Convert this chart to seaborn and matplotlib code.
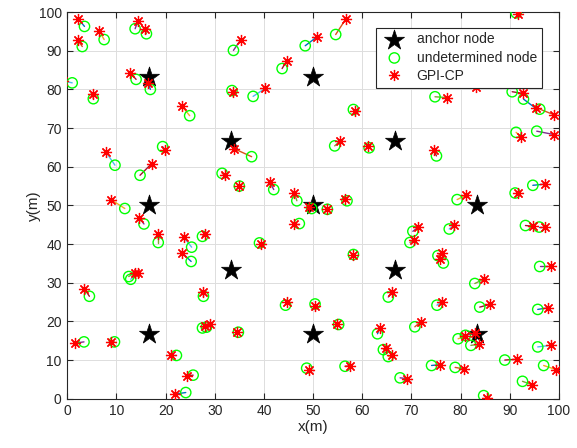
import matplotlib
matplotlib.use("Agg")
import matplotlib.pyplot as plt
import seaborn as sns
import pandas as pd

anchor_x = [16.67, 16.67, 16.67, 33.33, 33.33, 50.0, 50.0, 50.0, 66.67, 66.67, 83.33, 83.33, 83.33]
anchor_y = [16.67, 50.0, 83.33, 33.33, 66.67, 16.67, 50.0, 83.33, 33.33, 66.67, 16.67, 50.0, 83.33]

node_x = [3.5, 3.05, 7.5, 13.8, 16.1, 1.0, 14.0, 16.9, 5.3, 24.9,
          33.8, 33.5, 37.8, 43.7, 48.4, 54.6, 58.2, 91.3, 74.8, 82.5,
          90.5, 92.8, 96.1, 91.3, 95.5, 67.2, 9.7, 14.8, 19.4, 31.5,
          11.7, 15.6, 18.5, 25.3, 27.5, 25.2, 37.5, 35.0, 42.0, 46.7,
          49.7, 52.9, 56.9, 47.2, 39.1, 58.2, 54.4, 61.4, 75.1, 94.7,
          91.1, 79.3, 70.3, 69.7, 77.7, 93.2, 96.0, 75.4, 76.5, 96.1,
          12.5, 12.9, 4.5, 27.7, 27.5, 28.3, 3.4, 9.6, 22.2, 25.6,
          24.1, 44.4, 50.4, 34.8, 55.2, 48.7, 56.5, 63.1, 64.3, 65.3,
          65.3, 82.9, 75.2, 83.9, 95.7, 70.7, 79.5, 81.0, 82.1, 95.7,
          89.0, 74.1, 78.9, 96.9, 67.7, 92.6, 84.7]
node_y = [96.3, 91.1, 92.9, 95.7, 94.4, 81.7, 82.6, 80.0, 77.6, 73.2,
          90.1, 79.7, 78.2, 85.4, 91.3, 94.2, 74.8, 99.8, 78.1, 82.5,
          79.4, 77.5, 74.9, 68.9, 69.2, 81.8, 60.4, 57.8, 65.2, 58.3,
          49.2, 45.2, 40.4, 39.2, 42.0, 35.5, 62.6, 55.0, 54.1, 51.2,
          49.2, 49.0, 51.2, 45.3, 40.3, 37.3, 65.4, 64.9, 62.8, 55.2,
          53.2, 51.5, 43.3, 40.4, 43.9, 44.8, 44.4, 37.0, 35.1, 34.2,
          31.6, 30.9, 26.5, 26.5, 18.3, 18.5, 14.7, 14.7, 11.2, 6.1,
          1.6, 24.2, 24.5, 17.2, 19.2, 7.9, 8.4, 16.8, 12.7, 10.9,
          26.3, 29.8, 24.2, 23.7, 23.1, 18.6, 15.5, 16.4, 13.8, 13.4,
          10.0, 8.6, 8.1, 8.6, 5.4, 4.5, 0.8]

est_x = [2.2, 2.1, 6.5, 14.4, 15.9, -0.8, 12.8, 16.5, 5.15, 23.3,
         35.3, 33.7, 40.3, 44.6, 50.8, 56.6, 58.5, 91.6, 77.2, 83.2,
         92.6, 95.3, 99.1, 92.3, 99.1, 68.0, 7.8, 17.15, 19.9, 32.0,
         8.9, 14.6, 18.5, 23.7, 28.1, 23.4, 33.9, 35.0, 41.2, 46.2,
         49.2, 52.8, 56.4, 46.2, 39.4, 58.2, 55.4, 61.2, 74.5, 97.1,
         91.6, 81.2, 71.4, 70.5, 78.7, 94.7, 97.1, 76.3, 75.9, 98.3,
         13.8, 14.4, 3.5, 27.7, 28.1, 29.0, 1.6, 8.9, 21.1, 24.4,
         21.9, 44.6, 50.4, 34.6, 54.9, 49.2, 57.6, 63.6, 64.8, 66.0,
         66.0, 84.7, 76.3, 86.0, 97.7, 71.9, 80.9, 82.9, 83.7, 98.3,
         91.4, 75.8, 80.7, 99.5, 69.1, 94.6, 85.3]
est_y = [98.3, 92.8, 95.1, 97.8, 95.5, 82.2, 84.3, 81.7, 78.8, 75.7,
         92.9, 79.4, 80.3, 87.3, 93.6, 98.1, 74.4, 99.6, 77.9, 80.5,
         79.0, 75.1, 73.4, 67.7, 68.3, 83.0, 63.9, 60.8, 64.3, 57.8,
         51.5, 46.8, 42.6, 41.7, 42.6, 37.7, 64.7, 54.9, 56.0, 53.2,
         49.7, 49.0, 51.6, 45.3, 40.0, 37.1, 66.6, 65.4, 64.3, 55.5,
         53.2, 52.7, 44.4, 41.1, 45.0, 44.6, 44.4, 37.8, 36.1, 34.2,
         32.6, 32.6, 28.4, 27.6, 18.7, 19.2, 14.4, 14.6, 11.2, 5.9,
         1.2, 25.0, 23.9, 17.2, 19.2, 7.5, 8.5, 18.3, 13.1, 11.2,
         27.7, 30.9, 25.1, 24.4, 23.5, 19.9, 16.2, 16.9, 14.1, 13.8,
         10.2, 8.8, 7.7, 7.5, 5.2, 3.6, 0.2]

x_ticks = list(range(0, 101, 10))
y_ticks = list(range(0, 101, 10))
legend_labels = ["anchor node", "undetermined node", "GPI-CP"]

line_colors = ['#0072BD', '#D95319', '#EDB120', '#7E2F8E', '#77AC30', '#4DBEEE', '#A2142F']

sns.set_style("white")
plt.rcParams['font.family'] = ['Liberation Sans', 'DejaVu Sans']

fig = plt.figure(figsize=(5.77, 4.48), dpi=100)
ax = fig.add_axes([0.1166, 0.110, 0.852, 0.863])

anchors = pd.DataFrame({"x": anchor_x, "y": anchor_y})
nodes = pd.DataFrame({"x": node_x, "y": node_y})
ests = pd.DataFrame({"x": est_x, "y": est_y})

# anchors
sns.scatterplot(data=anchors, x="x", y="y", marker="*", s=230, color="black",
                edgecolor="black", linewidth=0.5, ax=ax, zorder=2, label=legend_labels[0])

# connecting lines
for i in range(len(node_x)):
    ax.plot([node_x[i], est_x[i]], [node_y[i], est_y[i]],
            color=line_colors[i % len(line_colors)], lw=1.0, zorder=3)

# undetermined nodes (open green circles)
sns.scatterplot(data=nodes, x="x", y="y", marker="o", s=55, facecolor="none",
                edgecolor="#00FF00", linewidth=1.0, ax=ax, zorder=4, label=legend_labels[1])

# estimates (red asterisks)
ax.plot(est_x, est_y, linestyle="none", marker=(8, 2, 0), markersize=8,
        color="red", markeredgewidth=0.9, zorder=5, label=legend_labels[2])

ax.set_xlim(0, 100)
ax.set_ylim(0, 100)
ax.set_xticks(x_ticks)
ax.set_yticks(y_ticks)
ax.set_xticklabels([str(t) for t in x_ticks], fontsize=10)
ax.set_yticklabels([str(t) for t in y_ticks], fontsize=10)
ax.set_xlabel("x(m)", fontsize=11, labelpad=1)
ax.set_ylabel("y(m)", fontsize=11, labelpad=-2)

ax.grid(True, color="#dddddd", lw=0.7)
ax.set_axisbelow(True)
ax.tick_params(direction="in", length=4, width=0.8, top=True, right=True,
               bottom=True, left=True, colors="#262626", pad=4)
for s in ax.spines.values():
    s.set_visible(True)
    s.set_color("#262626")
    s.set_linewidth(0.8)

leg = ax.legend(loc="upper right", bbox_to_anchor=(0.965, 0.96), borderaxespad=0,
                fontsize=10, frameon=True, fancybox=False, framealpha=1,
                edgecolor="#262626", handlelength=2.0, handletextpad=0.6,
                labelspacing=0.3, borderpad=0.35, markerscale=1.0)
leg.set_zorder(10)
leg.get_frame().set_linewidth(0.8)

fig.savefig("out.png", dpi=100)
